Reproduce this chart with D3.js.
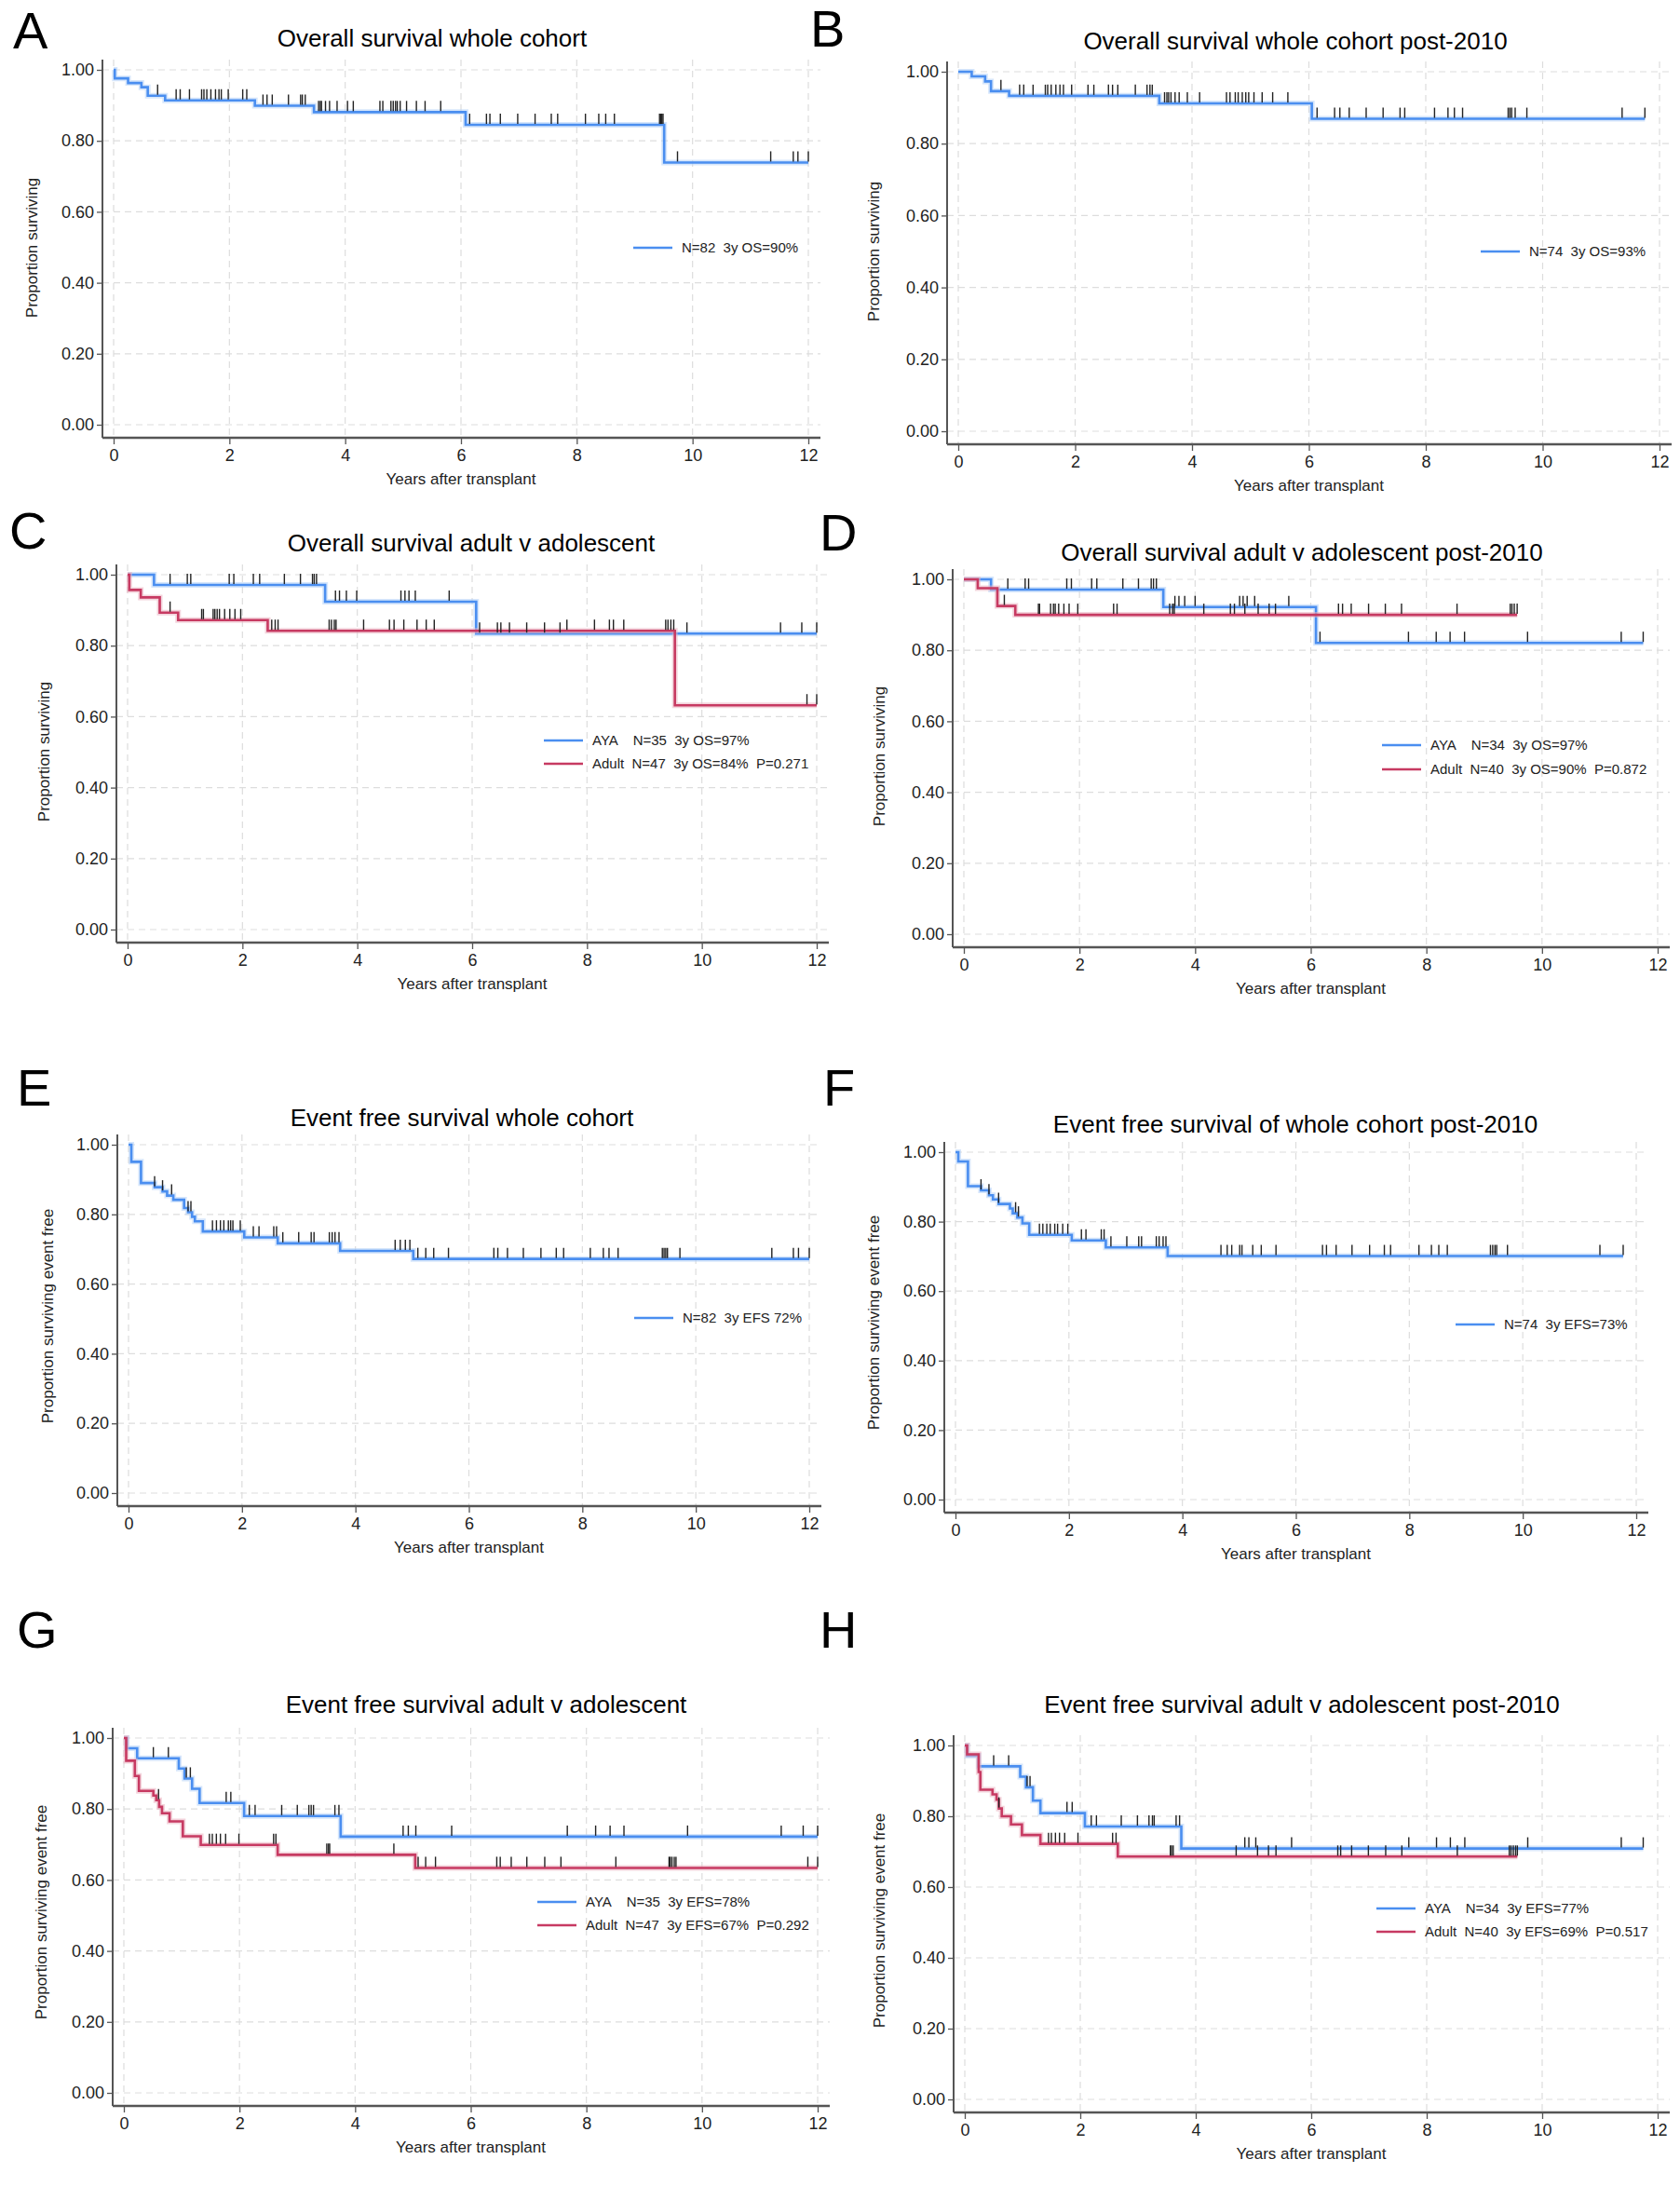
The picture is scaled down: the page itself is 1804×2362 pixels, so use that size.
<!DOCTYPE html>
<html><head><meta charset="utf-8">
<script src="https://cdn.jsdelivr.net/npm/d3@7"></script>
<style>
html,body{margin:0;padding:0;background:#fff;}
svg text{font-family:"Liberation Sans Narrow","Liberation Sans",Arial,sans-serif;}
</style></head>
<body><div id="chart"></div>
<script>
// ---------- tick labels ----------
const xTicks = [0, 2, 4, 6, 8, 10, 12];
const yTicks = [0, 0.2, 0.4, 0.6, 0.8, 1.0];

// ---------- A: OS whole cohort ----------
const osAllT = [0.02, 0.25, 0.48, 0.59, 0.89, 2.44, 3.46, 6.08, 9.51];
const osAllS = [0.976, 0.963, 0.951, 0.927, 0.914, 0.899, 0.881, 0.845, 0.739];
const osAllEnd = 12.0;
const osAllCens = [0.76,1.08,1.15,1.31,1.52,1.56,1.61,1.68,1.76,1.82,1.86,1.98,2.23,2.30,2.58,2.65,2.74,3.02,3.23,3.26,3.31,3.54,3.57,3.59,3.66,3.73,3.86,4.04,4.14,4.60,4.65,4.79,4.83,4.87,4.90,4.95,5.06,5.23,5.38,5.65,6.15,6.44,6.50,6.68,6.98,7.28,7.56,7.67,8.15,8.38,8.50,8.65,9.43,9.45,9.47,9.49,9.74,11.35,11.74,11.82,12.0];

// ---------- B: OS whole cohort post-2010 ----------
const osPostT = [0.23, 0.46, 0.56, 0.87, 3.44, 6.05];
const osPostS = [0.987, 0.973, 0.946, 0.933, 0.912, 0.869];
const osPostEnd = 11.75;
const osPostCens = [0.73,1.05,1.12,1.28,1.49,1.53,1.59,1.67,1.74,1.80,1.94,2.22,2.32,2.57,2.64,2.73,3.03,3.23,3.28,3.32,3.53,3.57,3.60,3.64,3.71,3.78,3.92,4.13,4.59,4.65,4.74,4.79,4.86,4.92,4.97,5.06,5.20,5.38,5.64,6.14,6.44,6.53,6.69,6.98,7.27,7.56,7.64,8.15,8.38,8.49,8.63,9.41,9.44,9.47,9.53,9.73,11.36,11.75];

// ---------- C: OS adult v adolescent ----------
const osAyaT = [0.46, 3.44, 6.07];
const osAyaS = [0.971, 0.924, 0.834];
const osAyaEnd = 12.0;
const osAyaCens = [0.74,1.04,1.10,1.77,1.85,2.19,2.30,2.73,3.01,3.22,3.25,3.29,3.62,3.69,3.81,3.99,4.76,4.83,4.90,5.01,5.60,6.13,6.44,6.50,6.65,6.95,7.26,7.53,9.74,11.37,11.74,12.0];
const osAdultT = [0.03, 0.23, 0.56, 0.88, 2.44, 9.53];
const osAdultS = [0.957, 0.936, 0.893, 0.872, 0.842, 0.632];
const osAdultEnd = 12.0;
const osAdultCens = [0.74,1.29,1.32,1.49,1.52,1.56,1.60,1.69,1.78,1.87,1.97,2.51,2.57,2.62,3.51,3.55,3.60,3.63,4.11,4.56,4.64,4.81,5.04,5.20,5.34,7.65,8.13,8.39,8.46,8.64,9.37,9.41,9.46,9.51,11.83,12.0];

// ---------- D: OS adult v adolescent post-2010 ----------
const osPostAyaT = [0.47, 3.45, 6.09];
const osPostAyaS = [0.971, 0.922, 0.821];
const osPostAyaEnd = 11.75;
const osPostAyaCens = [0.76,1.06,1.12,1.78,1.86,2.21,2.30,2.75,3.02,3.24,3.28,3.33,3.65,3.72,3.82,4.00,4.77,4.83,4.90,5.03,5.62,6.16,7.69,8.17,8.41,8.66,9.75,11.37,11.75];
const osPostAdultT = [0.24, 0.58, 0.89];
const osPostAdultS = [0.975, 0.925, 0.900];
const osPostAdultEnd = 9.57;
const osPostAdultCens = [0.70,1.29,1.31,1.50,1.55,1.58,1.64,1.73,1.82,1.97,2.59,2.65,3.56,3.61,3.64,4.15,4.61,4.68,4.86,5.09,5.28,5.39,6.48,6.55,6.70,7.00,7.29,7.57,8.53,9.45,9.48,9.52,9.57];

// ---------- E: EFS whole cohort ----------
const efsAllT = [0.05,0.22,0.46,0.60,0.68,0.79,0.98,1.05,1.12,1.17,1.31,2.04,2.63,3.73,5.02];
const efsAllS = [0.951,0.890,0.878,0.866,0.854,0.842,0.818,0.806,0.793,0.780,0.751,0.734,0.717,0.695,0.672];
const efsAllEnd = 12.0;
const efsAllCens = [0.46,0.60,0.76,1.05,1.10,1.48,1.55,1.62,1.68,1.76,1.80,1.84,1.97,2.20,2.30,2.56,2.61,2.72,3.00,3.22,3.27,3.54,3.59,3.64,3.71,4.70,4.79,4.88,4.96,5.10,5.24,5.38,5.64,6.44,6.51,6.68,6.96,7.27,7.54,7.67,8.14,8.37,8.47,8.63,9.41,9.44,9.47,9.50,9.72,11.34,11.72,11.81,12.0];

// ---------- F: EFS whole cohort post-2010 ----------
const efsPostT = [0.05,0.22,0.45,0.59,0.66,0.76,0.96,1.01,1.09,1.18,1.30,2.05,2.65,3.74];
const efsPostS = [0.973,0.902,0.890,0.876,0.864,0.851,0.838,0.824,0.812,0.795,0.762,0.746,0.726,0.701];
const efsPostEnd = 11.77;
const efsPostCens = [0.45,0.59,0.76,1.06,1.11,1.48,1.54,1.61,1.67,1.75,1.80,1.89,1.98,2.22,2.30,2.57,2.62,2.74,3.02,3.23,3.28,3.54,3.59,3.66,3.71,4.68,4.79,4.87,5.01,5.05,5.24,5.39,5.65,6.47,6.54,6.71,6.99,7.30,7.56,7.67,8.17,8.39,8.52,8.67,9.43,9.47,9.51,9.54,9.73,11.36,11.77];

// ---------- G: EFS adult v adolescent ----------
const efsAyaT = [0.05,0.23,0.95,1.05,1.18,1.31,2.08,3.75];
const efsAyaS = [0.971,0.943,0.914,0.886,0.857,0.817,0.780,0.722];
const efsAyaEnd = 12.0;
const efsAyaCens = [0.51,0.77,1.08,1.15,1.77,1.85,2.17,2.27,2.73,3.00,3.20,3.24,3.28,3.65,3.72,4.83,4.92,5.05,5.67,7.67,8.16,8.41,8.65,9.75,11.37,11.75,12.0];
const efsAdultT = [0.04,0.19,0.26,0.51,0.56,0.61,0.66,0.79,1.02,1.33,2.66,5.04];
const efsAdultS = [0.936,0.893,0.851,0.838,0.825,0.806,0.788,0.765,0.723,0.699,0.671,0.634];
const efsAdultEnd = 12.0;
const efsAdultCens = [0.60,1.48,1.53,1.60,1.67,1.76,1.99,2.59,2.63,3.51,3.54,3.56,4.67,5.09,5.22,5.39,6.45,6.51,6.70,6.97,7.28,7.56,8.51,9.43,9.45,9.48,9.52,9.55,11.83,12.0];

// ---------- H: EFS adult v adolescent post-2010 ----------
const efsPostAyaT = [0.04,0.24,0.96,1.06,1.18,1.31,2.08,3.75];
const efsPostAyaS = [0.971,0.941,0.912,0.882,0.844,0.809,0.771,0.709];
const efsPostAyaEnd = 11.75;
const efsPostAyaCens = [0.50,0.76,1.08,1.13,1.77,1.86,2.19,2.28,2.71,2.99,3.19,3.25,3.28,3.66,3.72,4.85,4.92,5.04,5.66,7.69,8.17,8.41,8.66,9.75,11.37,11.75];
const efsPostAdultT = [0.04,0.24,0.27,0.48,0.55,0.59,0.64,0.80,0.99,1.31,2.65];
const efsPostAdultS = [0.975,0.925,0.875,0.862,0.847,0.822,0.800,0.777,0.747,0.722,0.686];
const efsPostAdultEnd = 9.57;
const efsPostAdultCens = [0.59,1.45,1.50,1.57,1.64,1.73,1.96,2.56,2.62,3.56,3.58,3.61,4.70,5.07,5.26,5.39,6.46,6.51,6.70,6.99,7.29,7.57,8.53,9.43,9.46,9.50,9.54,9.57];

// ---------- text ----------
const panelLetters = ["A","B","C","D","E","F","G","H"];
const panelTitles = [
  "Overall survival whole cohort",
  "Overall survival whole cohort post-2010",
  "Overall survival adult v adolescent",
  "Overall survival adult v adolescent post-2010",
  "Event free survival whole cohort",
  "Event free survival of whole cohort post-2010",
  "Event free survival adult v adolescent",
  "Event free survival adult v adolescent post-2010"
];
const yTitles = ["Proportion surviving","Proportion surviving","Proportion surviving","Proportion surviving",
  "Proportion surviving event free","Proportion surviving event free","Proportion surviving event free","Proportion surviving event free"];
const xTitle = "Years after transplant";

// ---------- styling ----------
const BLUE = "#4a8ef0", BLUE_HALO = "#b5d2f7";
const RED = "#c73a62", RED_HALO = "#eab0c0";

// series per panel
const series = [
  [{t:osAllT, s:osAllS, end:osAllEnd, c:osAllCens, col:BLUE, halo:BLUE_HALO, label:"N=82  3y OS=90%"}],
  [{t:osPostT, s:osPostS, end:osPostEnd, c:osPostCens, col:BLUE, halo:BLUE_HALO, label:"N=74  3y OS=93%"}],
  [{t:osAyaT, s:osAyaS, end:osAyaEnd, c:osAyaCens, col:BLUE, halo:BLUE_HALO, label:"AYA    N=35  3y OS=97%"},
   {t:osAdultT, s:osAdultS, end:osAdultEnd, c:osAdultCens, col:RED, halo:RED_HALO, label:"Adult  N=47  3y OS=84%  P=0.271"}],
  [{t:osPostAyaT, s:osPostAyaS, end:osPostAyaEnd, c:osPostAyaCens, col:BLUE, halo:BLUE_HALO, label:"AYA    N=34  3y OS=97%"},
   {t:osPostAdultT, s:osPostAdultS, end:osPostAdultEnd, c:osPostAdultCens, col:RED, halo:RED_HALO, label:"Adult  N=40  3y OS=90%  P=0.872"}],
  [{t:efsAllT, s:efsAllS, end:efsAllEnd, c:efsAllCens, col:BLUE, halo:BLUE_HALO, label:"N=82  3y EFS 72%"}],
  [{t:efsPostT, s:efsPostS, end:efsPostEnd, c:efsPostCens, col:BLUE, halo:BLUE_HALO, label:"N=74  3y EFS=73%"}],
  [{t:efsAyaT, s:efsAyaS, end:efsAyaEnd, c:efsAyaCens, col:BLUE, halo:BLUE_HALO, label:"AYA    N=35  3y EFS=78%"},
   {t:efsAdultT, s:efsAdultS, end:efsAdultEnd, c:efsAdultCens, col:RED, halo:RED_HALO, label:"Adult  N=47  3y EFS=67%  P=0.292"}],
  [{t:efsPostAyaT, s:efsPostAyaS, end:efsPostAyaEnd, c:efsPostAyaCens, col:BLUE, halo:BLUE_HALO, label:"AYA    N=34  3y EFS=77%"},
   {t:efsPostAdultT, s:efsPostAdultS, end:efsPostAdultEnd, c:efsPostAdultCens, col:RED, halo:RED_HALO, label:"Adult  N=40  3y EFS=69%  P=0.517"}]
];

// layout (pixel geometry)
const layout = [
  {x0:122, x12:868, y1:75,  y0:456,  tx:464,  ty:50,   lx:14,  ly:52,   ylx:40,  yly:266,  gx:680,  gy:[266]},
  {x0:1029,x12:1782,y1:77,  y0:463,  tx:1391, ty:53,   lx:870, ly:50,   ylx:944, yly:270,  gx:1590, gy:[270]},
  {x0:137, x12:877, y1:617, y0:998,  tx:506,  ty:592,  lx:10,  ly:589,  ylx:53,  yly:807,  gx:584,  gy:[795,820]},
  {x0:1035,x12:1780,y1:622, y0:1003, tx:1398, ty:602,  lx:880, ly:591,  ylx:950, yly:812,  gx:1484, gy:[800,826]},
  {x0:138, x12:869, y1:1229,y0:1603, tx:496,  ty:1209, lx:18,  ly:1187, ylx:57,  yly:1413, gx:681,  gy:[1415]},
  {x0:1026,x12:1757,y1:1237,y0:1610, tx:1391, ty:1216, lx:884, ly:1187, ylx:944, yly:1420, gx:1563, gy:[1422]},
  {x0:133, x12:878, y1:1866,y0:2247, tx:522,  ty:1839, lx:18,  ly:1769, ylx:50,  yly:2053, gx:577,  gy:[2042,2067]},
  {x0:1036,x12:1780,y1:1874,y0:2254, tx:1398, ty:1839, lx:880, ly:1769, ylx:950, yly:2062, gx:1478, gy:[2049,2074]}
];

const svg = d3.select("#chart").append("svg")
  .attr("width", 1804).attr("height", 2362)
  .attr("viewBox", "0 0 1804 2362");
svg.append("rect").attr("width",1804).attr("height",2362).attr("fill","#fff");

function survAt(ser, time){
  let v = 1;
  for (let i=0;i<ser.t.length;i++){ if (ser.t[i] <= time) v = ser.s[i]; }
  return v;
}

layout.forEach((L, pi) => {
  const g = svg.append("g");
  const x = d3.scaleLinear().domain([0,12]).range([L.x0, L.x12]);
  const y = d3.scaleLinear().domain([0,1]).range([L.y0, L.y1]);
  const axX = L.x0 - 12, axY = L.y0 + 14;
  const top = L.y1 - 11, right = L.x12 + 13;

  // grid
  g.append("g").selectAll("line").data(yTicks).join("line")
    .attr("x1", axX).attr("x2", right).attr("y1", d=>y(d)).attr("y2", d=>y(d))
    .attr("stroke","#dddddd").attr("stroke-width",1.2).attr("stroke-dasharray","7,5");
  g.append("g").selectAll("line").data(xTicks).join("line")
    .attr("x1", d=>x(d)).attr("x2", d=>x(d)).attr("y1", top).attr("y2", axY)
    .attr("stroke","#dddddd").attr("stroke-width",1.2).attr("stroke-dasharray","7,5");

  // axes
  const ya = g.append("g").attr("transform",`translate(${axX},0)`)
    .call(d3.axisLeft(y).tickValues(yTicks).tickFormat(d3.format(".2f")).tickSize(6).tickPadding(3));
  ya.select(".domain").remove();
  ya.selectAll("text").attr("font-size",18).attr("fill","#222");
  ya.selectAll("line").attr("stroke","#555").attr("stroke-width",1.3);
  const xa = g.append("g").attr("transform",`translate(0,${axY})`)
    .call(d3.axisBottom(x).tickValues(xTicks).tickFormat(d3.format("d")).tickSize(7).tickPadding(5));
  xa.select(".domain").remove();
  xa.selectAll("text").attr("font-size",18).attr("fill","#222");
  xa.selectAll("line").attr("stroke","#555").attr("stroke-width",1.3);
  g.append("line").attr("x1",axX).attr("x2",axX).attr("y1",top).attr("y2",axY)
    .attr("stroke","#555").attr("stroke-width",2);
  g.append("line").attr("x1",axX).attr("x2",right).attr("y1",axY).attr("y2",axY)
    .attr("stroke","#555").attr("stroke-width",2.5);

  // curves
  const line = d3.line().x(d=>x(d[0])).y(d=>y(d[1])).curve(d3.curveStepAfter);
  series[pi].forEach(ser => {
    const pts = [[0,1]];
    ser.t.forEach((t,i)=>pts.push([t, ser.s[i]]));
    pts.push([ser.end, ser.s[ser.s.length-1]]);
    g.append("path").attr("d", line(pts)).attr("fill","none")
      .attr("stroke", ser.halo).attr("stroke-width",6).attr("stroke-opacity",0.55);
    g.append("path").attr("d", line(pts)).attr("fill","none")
      .attr("stroke", ser.col).attr("stroke-width",2.6);
  });
  series[pi].forEach(ser => {
    g.append("g").selectAll("line").data(ser.c).join("line")
      .attr("x1", d=>x(d)).attr("x2", d=>x(d))
      .attr("y1", d=>y(survAt(ser,d))-1).attr("y2", d=>y(survAt(ser,d))-12)
      .attr("stroke","#222").attr("stroke-width",1.4);
  });

  // legend
  series[pi].forEach((ser, k) => {
    const ly = L.gy[k];
    g.append("line").attr("x1",L.gx).attr("x2",L.gx+42).attr("y1",ly).attr("y2",ly)
      .attr("stroke",ser.col).attr("stroke-width",2.6);
    g.append("text").attr("x",L.gx+52).attr("y",ly+5).attr("font-size",15)
      .attr("fill","#222").attr("xml:space","preserve").style("white-space","pre").text(ser.label);
  });

  // titles
  g.append("text").attr("x",L.tx).attr("y",L.ty).attr("text-anchor","middle")
    .attr("font-size",26).attr("font-weight",500).attr("fill","#000").text(panelTitles[pi]);
  g.append("text").attr("x",(L.x0+L.x12)/2).attr("y",axY+50).attr("text-anchor","middle")
    .attr("font-size",17).attr("fill","#222").text(xTitle);
  g.append("text").attr("transform",`translate(${L.ylx},${L.yly}) rotate(-90)`)
    .attr("text-anchor","middle").attr("font-size",17).attr("fill","#222").text(yTitles[pi]);
  g.append("text").attr("x",L.lx).attr("y",L.ly).attr("font-size",56)
    .attr("fill","#000").style("font-family","'Liberation Sans',Arial,sans-serif").text(panelLetters[pi]);
});
</script>
</body></html>
